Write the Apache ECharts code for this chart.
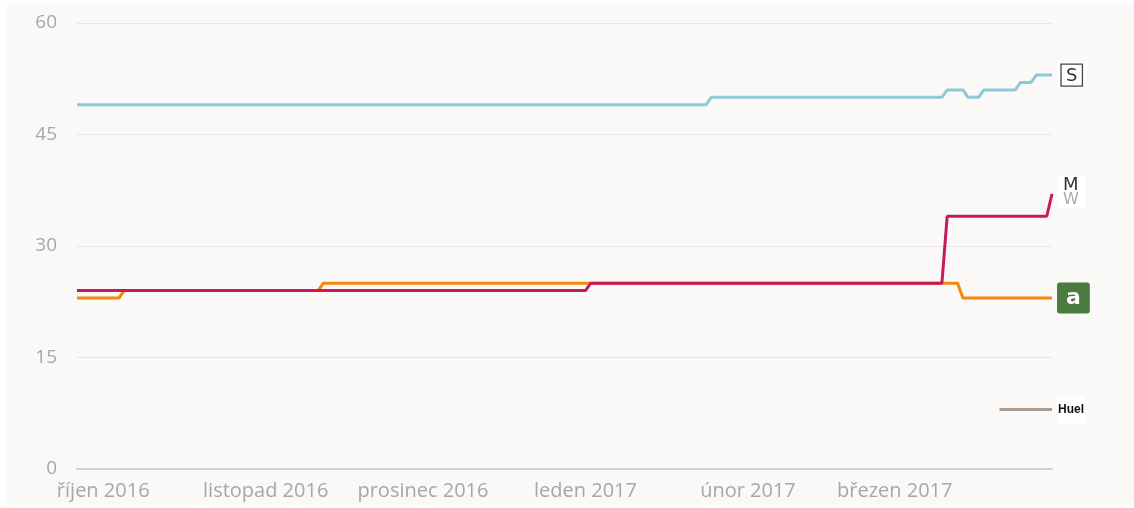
<!DOCTYPE html>
<html>
<head>
<meta charset="utf-8">
<script src="https://cdn.jsdelivr.net/npm/echarts@6/dist/echarts.min.js"></script>
<style>
  html, body { margin: 0; padding: 0; background: #ffffff; }
  #chart { position: absolute; left: 7px; top: 4px; width: 1127px; height: 501px; }
</style>
</head>
<body>
<div id="chart"></div>
<script>
// Czech month names used for x-axis tick labels
const monthNames = ["leden", "únor", "březen", "duben", "květen", "červen",
  "červenec", "srpen", "září", "říjen", "listopad", "prosinec"];

const yTicks = [0, 15, 30, 45, 60];
const xRange = ["2016-09-26", "2017-03-31"];

// change points of each price series [date, value]
const soylent = [
  ["2016-09-26", 49], ["2017-01-24", 49], ["2017-01-25", 50],
  ["2017-03-10", 50], ["2017-03-11", 51], ["2017-03-14", 51],
  ["2017-03-15", 50], ["2017-03-17", 50], ["2017-03-18", 51],
  ["2017-03-24", 51], ["2017-03-25", 52], ["2017-03-27", 52],
  ["2017-03-28", 53], ["2017-03-31", 53]
];
const mana = [
  ["2016-09-26", 24], ["2017-01-01", 24], ["2017-01-02", 25],
  ["2017-03-10", 25], ["2017-03-11", 34], ["2017-03-30", 34],
  ["2017-03-31", 37]
];
const amazon = [
  ["2016-09-26", 23], ["2016-10-04", 23], ["2016-10-05", 24],
  ["2016-11-11", 24], ["2016-11-12", 25], ["2017-03-13", 25],
  ["2017-03-14", 23], ["2017-03-31", 23]
];
const huel = [
  ["2017-03-21", 8], ["2017-03-31", 8]
];

const chart = echarts.init(document.getElementById("chart"));
const font = "'Open Sans', sans-serif";
const tickColor = "#a9a7a5";
const day = 24 * 3600 * 1000;

function line(name, data, color, endLabel) {
  return {
    name: name,
    type: "line",
    data: data,
    showSymbol: false,
    lineStyle: { color: color, width: 3 },
    itemStyle: { color: color },
    endLabel: Object.assign({ show: true, distance: 5 }, endLabel),
    z: 3
  };
}

chart.setOption({
  animation: false,
  backgroundColor: "#faf9f7",
  textStyle: { fontFamily: font },
  grid: { left: 70, top: 19, width: 975, height: 446, containLabel: false },
  xAxis: {
    type: "time",
    min: xRange[0],
    max: xRange[1],
    minInterval: 28 * day,
    maxInterval: 31 * day,
    axisLine: { show: true, lineStyle: { color: "#d3d1cf", width: 2 } },
    axisTick: { show: false },
    splitLine: { show: false },
    axisLabel: {
      color: tickColor,
      fontSize: 20,
      margin: 12,
      showMinLabel: false,
      showMaxLabel: false,
      hideOverlap: false,
      formatter: function (val) {
        const d = new Date(val);
        if (d.getDate() !== 1) return "";
        return monthNames[d.getMonth()] + " " + d.getFullYear();
      }
    }
  },
  yAxis: {
    type: "value",
    min: yTicks[0],
    max: yTicks[yTicks.length - 1],
    interval: 15,
    axisLine: { show: false },
    axisTick: { show: false },
    splitLine: { lineStyle: { color: "#e8e6e4", width: 1 } },
    axisLabel: { color: tickColor, fontSize: 19, margin: 20 }
  },
  series: [
    line("Soylent", soylent, "#8ccad5", {
      formatter: "{b|S}",
      backgroundColor: "#ffffff",
      padding: [3, 4],
      rich: {
        b: { fontSize: 18, color: "#333", borderColor: "#444", borderWidth: 1.3,
             padding: [3, 5, 1, 5], lineHeight: 19, fontFamily: "'DejaVu Sans', sans-serif" }
      }
    }),
    line("Amazon", amazon, "#f7860f", {
      formatter: "a",
      backgroundColor: "#4b7c3f",
      borderRadius: 3,
      color: "#ffffff",
      fontWeight: "bold",
      fontSize: 22,
      padding: [4, 9, 5, 9],
      fontFamily: "'DejaVu Sans', sans-serif"
    }),
    line("Mana", mana, "#c8195f", {
      formatter: "{m|M}\n{w|W}",
      backgroundColor: "#ffffff",
      padding: [2, 6],
      offset: [0, -2],
      rich: {
        m: { fontSize: 18, color: "#333", lineHeight: 15, fontFamily: "'DejaVu Sans', sans-serif" },
        w: { fontSize: 16, color: "#aaa", lineHeight: 13, fontFamily: "'DejaVu Sans', sans-serif" }
      }
    }),
    line("Huel", huel, "#ae998d", {
      formatter: "Huel",
      backgroundColor: "#ffffff",
      padding: [8, 1, 8, 1],
      color: "#111",
      fontWeight: "bold",
      fontSize: 12,
      fontFamily: "'Liberation Sans', sans-serif"
    })
  ]
});
</script>
</body>
</html>
